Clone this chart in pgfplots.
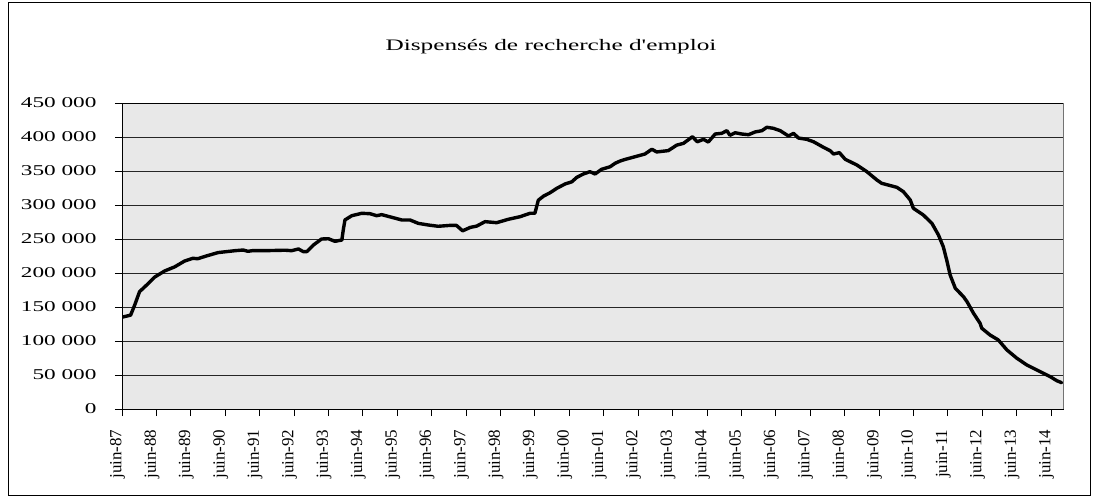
\documentclass[border=0pt]{standalone}
\usepackage{fontspec}
\setmainfont{Liberation Serif}
\usepackage{graphicx}
\usepackage{pgfplots}
\pgfplotsset{compat=1.18}
\newcommand\sy[1]{\scalebox{1.55}[1]{#1}}
\pgfplotstableread{
x y
0 135000
0.25 138000
0.37 153000
0.51 172500
0.71 182000
0.95 194000
1.24 203000
1.53 209000
1.82 217600
2.06 221600
2.2 221000
2.45 225000
2.79 230000
3.28 232800
3.52 233800
3.66 231900
3.81 233000
3.95 232800
4.3 233000
4.74 233500
4.93 232800
5.13 235300
5.27 231400
5.37 231400
5.56 241000
5.8 250000
6.0 250400
6.19 246600
6.39 248500
6.43 263000
6.48 278000
6.68 284300
6.97 287800
7.21 287200
7.40 284300
7.55 285800
7.84 281900
8.13 278000
8.37 278000
8.61 273000
8.90 270600
9.19 268700
9.53 270000
9.72 270000
9.90 262000
10.12 267000
10.31 269000
10.55 275500
10.89 274000
11.23 279000
11.57 282800
11.86 287800
12.0 287800
12.10 307000
12.25 313000
12.44 318000
12.64 324600
12.88 331000
13.07 334000
13.22 340700
13.41 345600
13.60 349000
13.75 345600
13.94 352500
14.19 356300
14.33 361300
14.48 364700
14.62 367000
14.91 371000
15.20 375000
15.40 382000
15.54 378000
15.88 380000
16.12 388000
16.32 390700
16.58 400400
16.72 393000
16.90 396600
17.04 392600
17.24 404400
17.43 405400
17.58 409300
17.67 402500
17.82 406300
18.01 404400
18.21 403400
18.40 407400
18.60 409300
18.74 414300
18.93 412800
19.13 409300
19.37 401500
19.52 405400
19.66 398500
19.90 396600
20.10 393000
20.39 384800
20.58 379900
20.68 375000
20.85 377000
21.02 367200
21.36 358800
21.65 349000
21.94 336800
22.08 331900
22.52 326000
22.71 319600
22.91 307400
23.00 295200
23.29 285300
23.54 273000
23.73 255900
23.87 238700
23.97 219000
24.07 197000
24.22 177500
24.46 165000
24.56 157800
24.75 140700
24.94 126000
24.99 118700
25.23 108800
25.47 101500
25.72 86800
26.01 74600
26.30 64700
26.59 57400
26.78 52500
26.98 47500
27.17 41600
27.31 38700
}\dispenses
\begin{document}
\begin{tikzpicture}
\useasboundingbox (0bp,0bp) rectangle (1098bp,498bp);
\fill[white] (0bp,0bp) rectangle (1098bp,498bp);
\draw[black, line width=0.8bp] (8.5bp,2.5bp) rectangle (1090bp,496bp);
\node[font=\fontsize{16bp}{19bp}\selectfont] at (551bp,451bp) {\scalebox{1.58}[1]{Dispensés de recherche d\textquotesingle emploi}};
\begin{axis}[
  at={(122bp,89bp)}, anchor=south west, scale only axis,
  width=941bp, height=306bp,
  xmin=0, xmax=27.35, ymin=0, ymax=450000,
  axis background/.style={fill=black!9},
  axis line style={black, line width=0.8bp},
  ymajorgrids, grid style={black!85, line width=0.6bp},
  tick align=outside, major tick length=7bp,
  tick style={black, line width=0.8bp},
  xtick pos=bottom, ytick pos=left,
  xtick={0,1,...,27},
  xticklabels={juin-87,juin-88,juin-89,juin-90,juin-91,juin-92,juin-93,juin-94,juin-95,juin-96,juin-97,juin-98,juin-99,juin-00,juin-01,juin-02,juin-03,juin-04,juin-05,juin-06,juin-07,juin-08,juin-09,juin-10,juin-11,juin-12,juin-13,juin-14},
  ytick={0,50000,100000,150000,200000,250000,300000,350000,400000,450000},
  yticklabels={\sy{0},\sy{50 000},\sy{100 000},\sy{150 000},\sy{200 000},\sy{250 000},\sy{300 000},\sy{350 000},\sy{400 000},\sy{450 000}},
  scaled y ticks=false,
  yticklabel style={font=\fontsize{15bp}{18bp}\selectfont, anchor=east, xshift=-15bp},
  xticklabel style={font=\fontsize{17bp}{20bp}\selectfont, xshift=-4.5bp, yshift=-10bp, rotate=90, anchor=east},
]
\addplot[black, line width=3.4bp, line join=round, line cap=round] table[x=x,y=y] {\dispenses};
\end{axis}
\draw[black!55, line width=1bp] (1063bp,89bp) -- (1063bp,395bp);
\end{tikzpicture}
\end{document}
